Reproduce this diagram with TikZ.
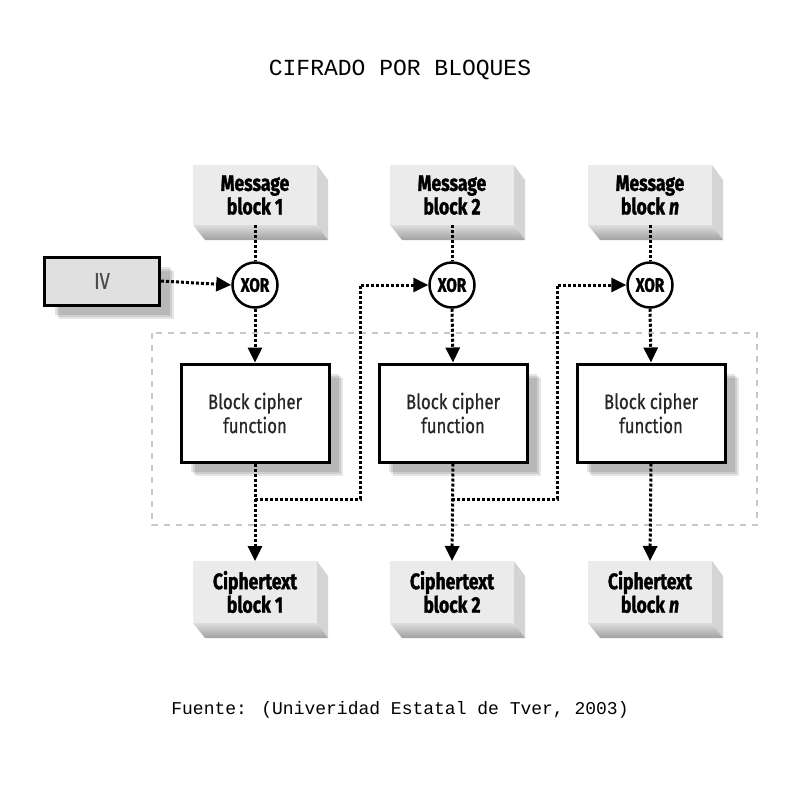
\documentclass[tikz,border=0pt]{standalone}
\usepackage{fontspec}
\usetikzlibrary{arrows.meta,calc,shadows}
\newfontfamily\condf[FakeStretch=0.8]{Fira Sans}
\newfontfamily\condmf[FakeStretch=0.8,FakeBold=0.6]{Fira Sans}
\newfontfamily\condbf[FakeStretch=0.78,FakeBold=1.3,UprightFont=* Bold,ItalicFont=* Bold Italic]{Fira Sans}
\newfontfamily\monof{Liberation Mono}
\definecolor{facec}{HTML}{EBEBEB}
\definecolor{sidec}{HTML}{D4D4D4}
\definecolor{botc}{HTML}{BDBDBD}
\definecolor{ivc}{HTML}{E0E0E0}
\definecolor{framec}{HTML}{C8C8C8}
\tikzset{
  softshadow/.style={
    drop shadow={shadow xshift=10pt,shadow yshift=-10pt,fill=black,opacity=0.1},
    drop shadow={shadow xshift=12pt,shadow yshift=-12pt,fill=black,opacity=0.1},
    drop shadow={shadow xshift=14pt,shadow yshift=-14pt,fill=black,opacity=0.1}},
  slabface/.style={rectangle,fill=facec,minimum width=124pt,minimum height=60pt,
    inner sep=0pt,outer sep=0pt,align=center,font=\condbf\fontsize{22.5}{23.5}\selectfont},
  funcbox/.style={rectangle,draw,line width=3pt,fill=white,minimum width=148pt,
    minimum height=98pt,inner sep=0pt,align=center,softshadow,text=black!85,
    font=\condmf\fontsize{21}{24}\selectfont},
  xorc/.style={circle,draw,line width=2.5pt,fill=white,minimum size=45pt,inner sep=0pt,
    font=\condbf\fontsize{19.5}{19.5}\selectfont},
  ivbox/.style={rectangle,draw,line width=3pt,fill=ivc,minimum width=115pt,
    minimum height=48pt,inner sep=0pt,softshadow,text=black!70,
    font=\condmf\fontsize{23}{23}\selectfont},
  flow/.style={line width=3pt,dash pattern=on 3pt off 2pt},
  flowarrow/.style={flow,-{Triangle[length=15pt,width=14pt]}},
  caption/.style={font=\monof\fontsize{23}{23}\selectfont,anchor=base},
  source/.style={font=\monof\fontsize{18}{18}\selectfont,anchor=base},
}
\newcommand\slabsides[1]{%
  \fill[sidec] (#1.north east) -- ++(11,15) -- ($(#1.south east)+(11,15)$) -- (#1.south east) -- cycle;
  \shade[top color=facec!70!botc,bottom color=botc!85!black] (#1.south west) -- (#1.south east) -- ++(11,15) -- ($(#1.south west)+(12,15)$) -- cycle;
}
\begin{document}
\begin{tikzpicture}[x=1pt,y=-1pt]
\useasboundingbox (0,0) rectangle (800,800);
\fill[white] (0,0) rectangle (800,800);

\node[caption] (title) at (400,75) {CIFRADO POR BLOQUES};

% dashed frame
\draw[framec,line width=1.5pt,dash pattern=on 6pt off 6pt] (152,333) rectangle (757,525);

% message blocks
\node[slabface] (m1) at (255,195) {Message\\block 1};
\node[slabface] (m2) at (452,195) {Message\\block 2};
\node[slabface] (m3) at (650,195) {Message\\block \textit{n}};
\slabsides{m1}\slabsides{m2}\slabsides{m3}

% ciphertext blocks
\node[slabface,minimum height=62pt] (c1) at (255,592) {Ciphertext\\block 1};
\node[slabface,minimum height=62pt] (c2) at (452,592) {Ciphertext\\block 2};
\node[slabface,minimum height=62pt] (c3) at (650,592) {Ciphertext\\block \textit{n}};
\slabsides{c1}\slabsides{c2}\slabsides{c3}

% IV
\node[ivbox] (iv) at (102,281) {IV};

% XOR
\node[xorc] (x1) at (255,285) {XOR};
\node[xorc] (x2) at (452,285) {XOR};
\node[xorc] (x3) at (650,285) {XOR};

% cipher functions
\node[funcbox] (f1) at (255,413) {Block cipher\\function};
\node[funcbox] (f2) at (453,413) {Block cipher\\function};
\node[funcbox] (f3) at (651,413) {Block cipher\\function};

% branch points
\coordinate (b1) at (255,499);
\coordinate (k1) at (360,285);
\coordinate (b2) at (452,499);
\coordinate (k2) at (557,285);

% connectors
\draw[flowarrow] (iv.east) -- (x1.west);
\draw[flow] (m1.south) -- (x1.north);
\draw[flow] (m2.south) -- (x2.north);
\draw[flow] (m3.south) -- (x3.north);
\draw[flowarrow] (x1.south) -- (f1.north);
\draw[flowarrow] (x2.south) -- (f2.north);
\draw[flowarrow] (x3.south) -- (f3.north);
\draw[flowarrow] (f1.south) -- (c1.north);
\draw[flowarrow] (f2.south) -- (c2.north);
\draw[flowarrow] (f3.south) -- (c3.north);
\draw[flowarrow] (b1) -| (k1) -- (x2.west);
\draw[flowarrow] (b2) -| (k2) -- (x3.west);

\node[source] (src) at (400,714) {Fuente: (Univeridad Estatal de Tver, 2003)};
\end{tikzpicture}
\end{document}
